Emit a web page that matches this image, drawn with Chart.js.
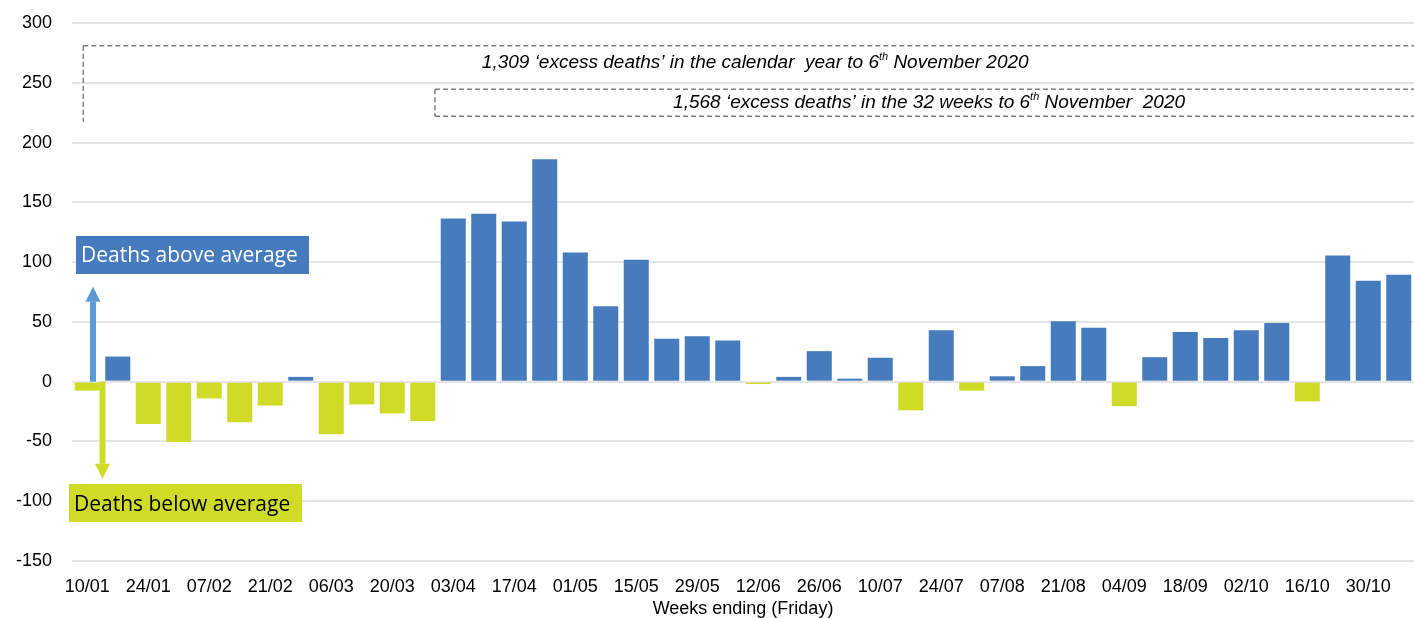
<!DOCTYPE html>
<html>
<head>
<meta charset="utf-8">
<script src="https://cdn.jsdelivr.net/npm/chart.js@4"></script>
<style>
  html, body { margin: 0; padding: 0; background: #fff; overflow: hidden; }
  #wrap { width: 1414px; height: 618px; }
</style>
</head>
<body>
<div id="wrap"><canvas id="excess-chart" width="1414" height="618"></canvas></div>
<script>
// weeks ending (Friday), 2020
var weekLabels = [
  "10/01", "17/01", "24/01", "31/01", "07/02", "14/02", "21/02", "28/02",
  "06/03", "13/03", "20/03", "27/03", "03/04", "10/04", "17/04", "24/04",
  "01/05", "08/05", "15/05", "22/05", "29/05", "05/06", "12/06", "19/06",
  "26/06", "03/07", "10/07", "17/07", "24/07", "31/07", "07/08", "14/08",
  "21/08", "28/08", "04/09", "11/09", "18/09", "25/09", "02/10", "09/10",
  "16/10", "23/10", "30/10", "06/11"
];

// deaths above (+) / below (-) the five-year average
var excessDeaths = [
  -7.5, 21, -35.5, -50.5, -14, -34, -20, 4,
  -44, -19, -26.5, -33, 136.5, 140.5, 134, 186,
  108, 63, 102, 36, 38, 34.5, -2, 4,
  25.5, 2.5, 20, -24, 43, -7.5, 4.5, 13,
  50.5, 45, -20.5, 20.5, 41.5, 36.5, 43, 49,
  -16.5, 105.5, 84.5, 89.5
];

var yTicks = { min: -150, max: 300, step: 50 };

var calendarNote = ["1,309 \u2018excess deaths\u2019 in the calendar  year to 6", "th", " November 2020"];
var weeksNote = ["1,568 \u2018excess deaths\u2019 in the 32 weeks to 6", "th", " November  2020"];
var aboveText = "Deaths above average";
var belowText = "Deaths below average";

var blue = "#467CBE",
  yellow = "#CFDB27",
  arrowBlue = "#5B9BD5",
  tickFont = "'Liberation Sans', Arial, sans-serif";

drawDashedLine = (ctx, x1, y1, x2, y2) => {
  ctx.beginPath();
  ctx.moveTo(x1, y1);
  ctx.lineTo(x2, y2);
  ctx.stroke();
};

drawNote = (ctx, parts, cx, cy) => {
  let big = "italic 19px 'Liberation Sans', sans-serif",
    small = "italic 11px 'Liberation Sans', sans-serif";
  ctx.font = big;
  let w0 = ctx.measureText(parts[0]).width,
    w2 = ctx.measureText(parts[2]).width;
  ctx.font = small;
  let w1 = ctx.measureText(parts[1]).width;
  let x = cx - (w0 + w1 + w2) / 2;
  ctx.fillStyle = "#000";
  ctx.textAlign = "left";
  ctx.textBaseline = "middle";
  ctx.font = big;
  ctx.fillText(parts[0], x, cy);
  ctx.font = small;
  ctx.fillText(parts[1], x + w0, cy - 6);
  ctx.font = big;
  ctx.fillText(parts[2], x + w0 + w1, cy);
};

drawArrow = (ctx, x, yFrom, yTo, color) => {
  let dir = yTo < yFrom ? -1 : 1,
    headLen = 15,
    headHalf = 7.5;
  ctx.fillStyle = color;
  ctx.fillRect(x - 3, Math.min(yFrom, yTo - dir * headLen), 6, Math.abs(yTo - dir * headLen - yFrom));
  ctx.beginPath();
  ctx.moveTo(x, yTo);
  ctx.lineTo(x - headHalf, yTo - dir * headLen);
  ctx.lineTo(x + headHalf, yTo - dir * headLen);
  ctx.closePath();
  ctx.fill();
};

var notesPlugin = {
  id: "notes",
  afterDatasetsDraw(chart) {
    let ctx = chart.ctx,
      y = chart.scales.y,
      area = chart.chartArea,
      step = (area.right - area.left) / weekLabels.length,
      xAt = (i) => area.left + (i + 0.5) * step;

    ctx.save();
    // dashed brackets
    ctx.strokeStyle = "#7f7f7f";
    ctx.lineWidth = 1.5;
    ctx.setLineDash([5, 3]);
    let b1Left = xAt(-0.13),
      b1Top = y.getPixelForValue(281);
    drawDashedLine(ctx, b1Left, b1Top, area.right, b1Top);
    drawDashedLine(ctx, b1Left, b1Top, b1Left, y.getPixelForValue(217.5));

    let b2Left = xAt(11.4),
      b2Top = y.getPixelForValue(244.5),
      b2Bottom = y.getPixelForValue(222);
    drawDashedLine(ctx, b2Left, b2Top, area.right, b2Top);
    drawDashedLine(ctx, b2Left, b2Top, b2Left, b2Bottom);
    drawDashedLine(ctx, b2Left, b2Bottom, area.right, b2Bottom);
    ctx.setLineDash([]);

    drawNote(ctx, calendarNote, xAt(21.9), y.getPixelForValue(267));
    drawNote(ctx, weeksNote, xAt(27.6), y.getPixelForValue(233));

    // arrows from the zero line
    let zero = y.getPixelForValue(0);
    drawArrow(ctx, xAt(0) + 5.75, zero, zero - 95, arrowBlue);
    drawArrow(ctx, xAt(0.5), zero, zero + 97, yellow);

    // labels
    ctx.font = "21px 'Open Sans', sans-serif";
    ctx.textAlign = "left";
    ctx.textBaseline = "middle";
    ctx.fillStyle = blue;
    ctx.fillRect(area.left + 4, 236, 233, 38);
    ctx.fillStyle = "#fff";
    ctx.fillText(aboveText, area.left + 9, 256);

    ctx.fillStyle = yellow;
    ctx.fillRect(area.left - 3, 484, 233, 38);
    ctx.fillStyle = "#000";
    ctx.fillText(belowText, area.left + 2, 505);
    ctx.restore();
  },
};

var chart = new Chart(document.getElementById("excess-chart"), {
  type: "bar",
  data: {
    labels: weekLabels,
    datasets: [
      {
        label: "Excess deaths",
        data: excessDeaths,
        backgroundColor: (c) => (c.raw >= 0 ? blue : yellow),
        categoryPercentage: 1,
        barPercentage: 0.82,
      },
    ],
  },
  options: {
    responsive: false,
    animation: false,
    devicePixelRatio: 1,
    layout: { padding: { top: 23, right: 0, bottom: 0, left: 0 } },
    plugins: {
      legend: { display: false },
      tooltip: { enabled: false },
    },
    scales: {
      x: {
        grid: { display: false },
        border: { display: false },
        ticks: {
          autoSkip: false,
          maxRotation: 0,
          minRotation: 0,
          padding: 7,
          color: "#000",
          font: { family: tickFont, size: 18 },
          callback: function (value, index) {
            return index % 2 === 0 ? weekLabels[index] : "";
          },
        },
        title: {
          display: true,
          text: "Weeks ending (Friday)",
          color: "#000",
          font: { family: tickFont, size: 18, lineHeight: 1 },
          padding: { top: 0, bottom: 0 },
        },
        afterFit: function (scale) {
          scale.height = 57;
          scale.paddingLeft = 0;
          scale.paddingRight = 0;
        },
      },
      y: {
        min: yTicks.min,
        max: yTicks.max,
        grid: { color: "#e6e6e6", lineWidth: 2, drawTicks: false },
        border: { display: false },
        ticks: {
          stepSize: yTicks.step,
          padding: 20,
          color: "#000",
          font: { family: tickFont, size: 18 },
        },
        afterFit: function (scale) {
          scale.width = 72;
          scale.paddingTop = 0;
          scale.paddingBottom = 0;
        },
      },
    },
  },
  plugins: [notesPlugin],
});
</script>
</body>
</html>
